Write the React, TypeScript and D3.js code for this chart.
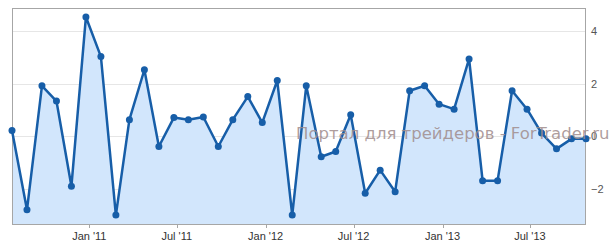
import React, { useEffect } from "react";
import * as d3 from "d3";

const startYear = 2010;
const startMonth = 6; // July (0-based), points dated on the 25th
const values = [
  0.23, -2.79, 1.93, 1.35, -1.89, 4.55, 3.04, -2.99, 0.64, 2.54,
  -0.38, 0.72, 0.64, 0.74, -0.38, 0.64, 1.52, 0.53, 2.13, -2.99,
  1.93, -0.77, -0.57, 0.83, -2.16, -1.28, -2.1, 1.74, 1.93, 1.23,
  1.04, 2.95, -1.68, -1.68, 1.74, 1.04, 0.13, -0.47, -0.09, -0.09,
];
const yTicks = [-2, 0, 2, 4];
const yDomain = [-3.33, 4.89];
const xTickDates = [
  new Date(2011, 0, 1), new Date(2011, 6, 1), new Date(2012, 0, 1),
  new Date(2012, 6, 1), new Date(2013, 0, 1), new Date(2013, 6, 1),
];
const xTickLabels = ["Jan '11", "Jul '11", "Jan '12", "Jul '12", "Jan '13", "Jul '13"];
const watermark = "Портал для трейдеров - ForTrader.ru";

const W = 611, H = 246;
const L = 12, R = 586, T = 8, B = 224;

export default function App() {
  useEffect(() => {
    document.body.style.margin = "0";
  }, []);
  const dates = values.map((_, i) => new Date(startYear, startMonth + i, 25));
  const x = d3.scaleTime().domain([dates[0], dates[dates.length - 1]]).range([L, R]);
  const y = d3.scaleLinear().domain(yDomain).range([B, T]);
  const pts = values.map((v, i) => [x(dates[i]), y(v)] as [number, number]);
  const line = d3.line()(pts) || "";
  const area = d3.area<[number, number]>().x(d => d[0]).y0(B).y1(d => d[1])(pts) || "";
  const font = "'Liberation Sans', Arial, sans-serif";
  return (
    <svg width={W} height={H} style={{ display: "block" }}>
      <rect x={0} y={0} width={W} height={H} fill="#fff" />
      {yTicks.map(t => (
        <line key={t} x1={L} x2={R} y1={Math.round(y(t)) + 0.5} y2={Math.round(y(t)) + 0.5} stroke="#e6e6e6" strokeWidth={1} />
      ))}
      <path d={area} fill="#d2e6fc" />
      <rect x={L + 0.5} y={T + 0.5} width={R - L - 1} height={B - T} fill="none" stroke="#a6a6a6" strokeWidth={1} />
      {xTickDates.map((d, i) => (
        <g key={i}>
          <line x1={Math.round(x(d)) + 0.5} x2={Math.round(x(d)) + 0.5} y1={B} y2={B + 4} stroke="#a6a6a6" />
          <text x={x(d)} y={240} textAnchor="middle" fontFamily={font} fontSize={11} fill="#333">{xTickLabels[i]}</text>
        </g>
      ))}
      {yTicks.map(t => (
        <text key={t} x={591} y={y(t) + 4} fontFamily={font} fontSize={11} fill="#555">{t === 0 ? "0" : t < 0 ? "−" + Math.abs(t) : String(t)}</text>
      ))}
      <path d={line} fill="none" stroke="#175ea8" strokeWidth={2.5} strokeLinejoin="round" />
      {pts.map((p, i) => (
        <circle key={i} cx={p[0]} cy={p[1]} r={3.5} fill="#175ea8" />
      ))}
      <text x={296} y={139} fontFamily="'DejaVu Sans', Verdana, sans-serif" fontSize={16.5} fill="#a08c8c" fillOpacity={0.85}>{watermark}</text>
    </svg>
  );
}
